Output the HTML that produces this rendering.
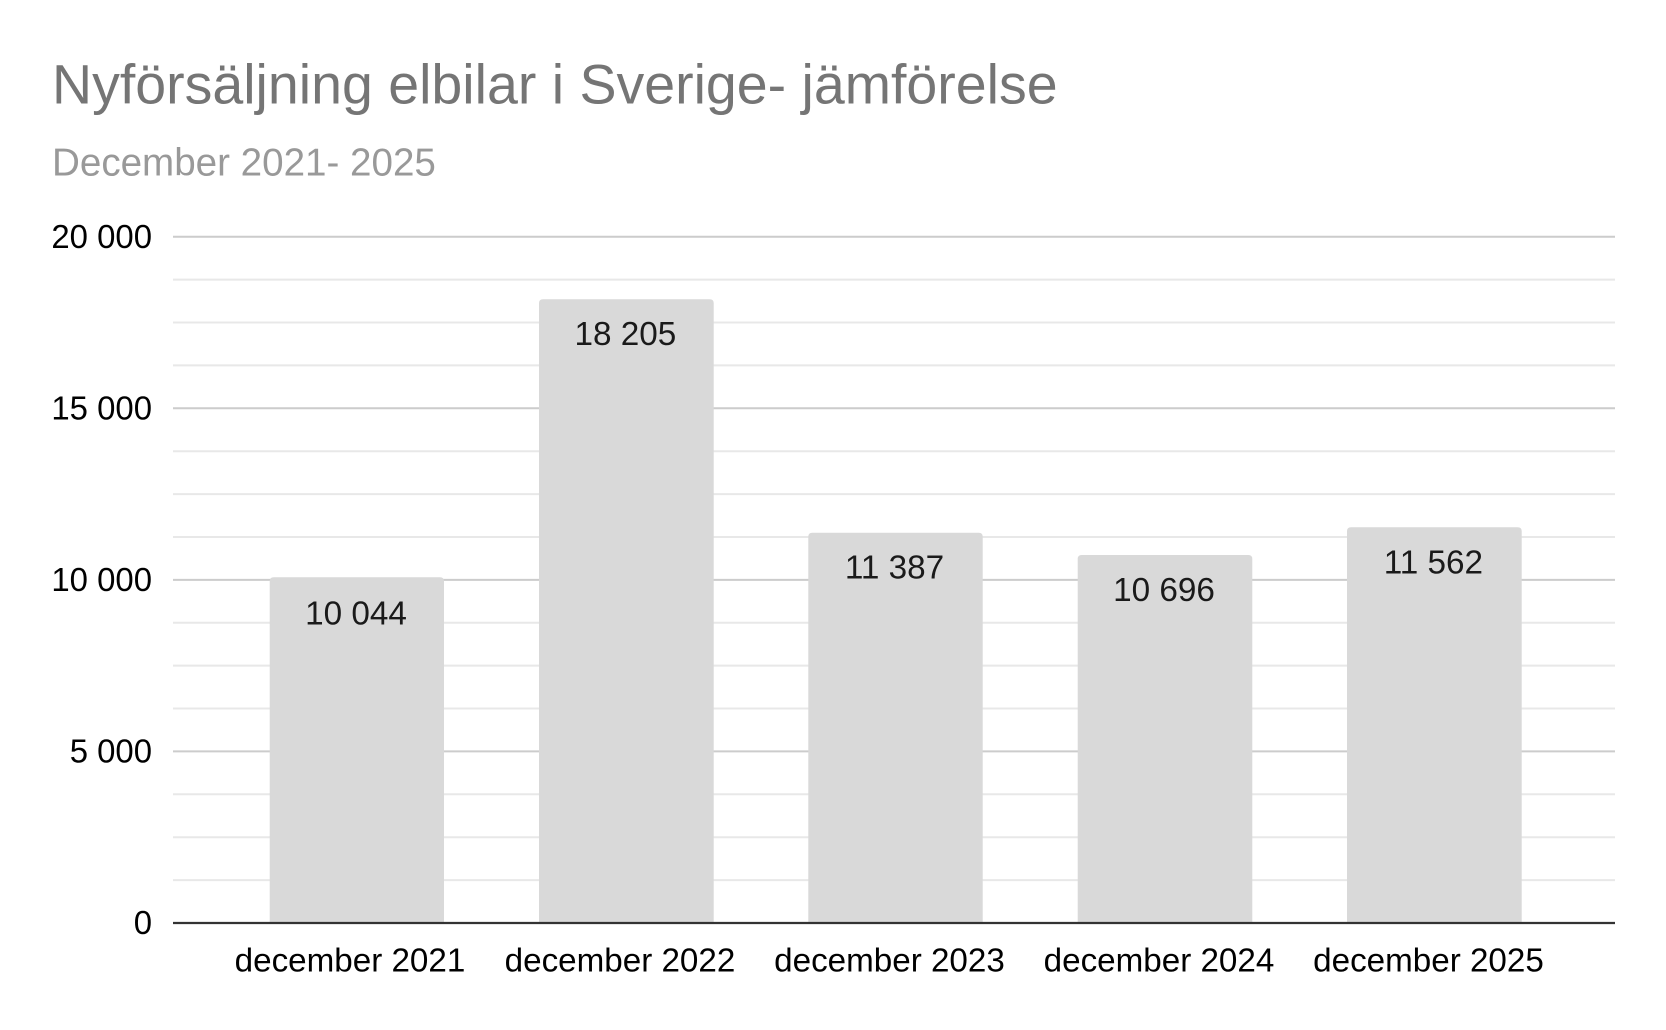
<!DOCTYPE html>
<html>
<head>
<meta charset="utf-8">
<style>
html,body{margin:0;padding:0;background:#fff;}
svg{display:block;}
text{font-family:"Liberation Sans",Arial,sans-serif;}
</style>
</head>
<body>
<svg width="1666" height="1030" viewBox="0 0 1666 1030" xmlns="http://www.w3.org/2000/svg">
<rect x="0" y="0" width="1666" height="1030" fill="#ffffff"/>
<text x="52" y="103.3" font-size="55.5" fill="#757575">Nyförsäljning elbilar i Sverige- jämförelse</text>
<text x="52" y="175.5" font-size="38.6" fill="#999999">December 2021- 2025</text>

<!-- minor gridlines -->
<g stroke="#e8e8e8" stroke-width="2">
<line x1="173" x2="1615" y1="880.1" y2="880.1"/>
<line x1="173" x2="1615" y1="837.2" y2="837.2"/>
<line x1="173" x2="1615" y1="794.3" y2="794.3"/>
<line x1="173" x2="1615" y1="708.5" y2="708.5"/>
<line x1="173" x2="1615" y1="665.6" y2="665.6"/>
<line x1="173" x2="1615" y1="622.8" y2="622.8"/>
<line x1="173" x2="1615" y1="537.0" y2="537.0"/>
<line x1="173" x2="1615" y1="494.1" y2="494.1"/>
<line x1="173" x2="1615" y1="451.2" y2="451.2"/>
<line x1="173" x2="1615" y1="365.4" y2="365.4"/>
<line x1="173" x2="1615" y1="322.5" y2="322.5"/>
<line x1="173" x2="1615" y1="279.6" y2="279.6"/>
</g>
<!-- major gridlines -->
<g stroke="#cccccc" stroke-width="2">
<line x1="173" x2="1615" y1="236.7" y2="236.7"/>
<line x1="173" x2="1615" y1="408.3" y2="408.3"/>
<line x1="173" x2="1615" y1="579.9" y2="579.9"/>
<line x1="173" x2="1615" y1="751.4" y2="751.4"/>
</g>

<!-- bars -->
<g fill="#d9d9d9">
<path d="M269.7,923 V581.3 Q269.7,577.3 273.7,577.3 H440 Q444,577.3 444,581.3 V923 Z"/>
<path d="M539,923 V303.3 Q539,299.3 543,299.3 H709.7 Q713.7,299.3 713.7,303.3 V923 Z"/>
<path d="M808.3,923 V536.7 Q808.3,532.7 812.3,532.7 H978.7 Q982.7,532.7 982.7,536.7 V923 Z"/>
<path d="M1077.7,923 V559 Q1077.7,555 1081.7,555 H1248.3 Q1252.3,555 1252.3,559 V923 Z"/>
<path d="M1347,923 V531.3 Q1347,527.3 1351,527.3 H1517.7 Q1521.7,527.3 1521.7,531.3 V923 Z"/>
</g>

<!-- axis -->
<line x1="173" x2="1615" y1="923" y2="923" stroke="#333333" stroke-width="2.2"/>

<!-- bar labels -->
<g font-size="33.3" fill="#1a1a1a" text-anchor="middle">
<text x="356" y="624.3">10 044</text>
<text x="625.4" y="345">18 205</text>
<text x="894.5" y="578.5">11 387</text>
<text x="1164" y="601">10 696</text>
<text x="1433.4" y="573.3">11 562</text>
</g>

<!-- y labels -->
<g font-size="32.9" fill="#000000" text-anchor="end">
<text x="152" y="247.8">20 000</text>
<text x="152" y="419.4">15 000</text>
<text x="152" y="591">10 000</text>
<text x="152" y="762.5">5 000</text>
<text x="152" y="934.1">0</text>
</g>

<!-- x labels -->
<g font-size="33.2" fill="#000000" text-anchor="middle">
<text x="350" y="971.3">december 2021</text>
<text x="620" y="971.3">december 2022</text>
<text x="889.5" y="971.3">december 2023</text>
<text x="1159" y="971.3">december 2024</text>
<text x="1428.5" y="971.3">december 2025</text>
</g>
</svg>
</body>
</html>
